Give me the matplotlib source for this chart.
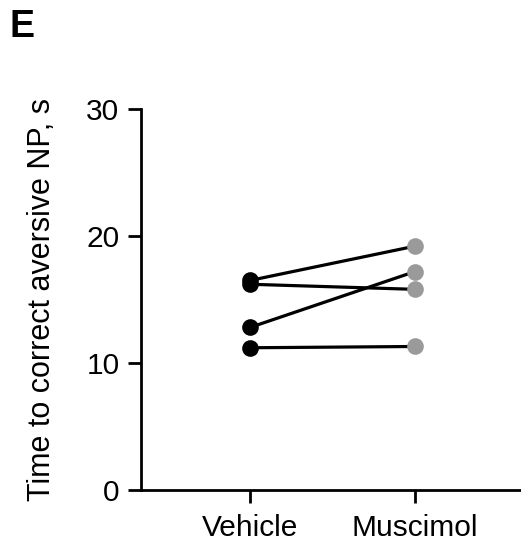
import matplotlib
matplotlib.use("Agg")
import matplotlib.pyplot as plt

plt.rcParams['font.family'] = ['Liberation Sans', 'DejaVu Sans']

conditions = ["Vehicle", "Muscimol"]
vehicle = [16.5, 16.2, 12.8, 11.2]
muscimol = [19.2, 15.8, 17.2, 11.3]
yticks = [0, 10, 20, 30]

fig = plt.figure(figsize=(5.21, 5.44), dpi=100)
ax = fig.add_axes([141/521, 1 - 490/544, 380/521, 381/544])

xs = list(range(len(conditions)))
for v, m in zip(vehicle, muscimol):
    ax.plot(xs, [v, m], color='black', lw=2.3, zorder=2, solid_capstyle='butt')
ax.scatter([xs[0]] * len(vehicle), vehicle, s=12**2, color='black', zorder=3, linewidths=0)
ax.scatter([xs[1]] * len(muscimol), muscimol, s=12**2, color='#9a9a9a', zorder=3, linewidths=0)

ax.set_xlim(-109/165, 1 + 106/165)
ax.set_ylim(0, 30)
ax.set_yticks(yticks)
ax.set_xticks(xs)
ax.set_xticklabels(conditions)
for s in ['top', 'right']:
    ax.spines[s].set_visible(False)
for s in ['left', 'bottom']:
    ax.spines[s].set_linewidth(2)
ax.tick_params(axis='both', width=2, length=9.5, labelsize=21.5)
ax.tick_params(axis='y', pad=6)
ax.tick_params(axis='x', pad=8)
ax.set_ylabel("Time to correct aversive NP, s", fontsize=22)
ax.yaxis.set_label_coords(-0.22, 0.5)

fig.text(10/521, 1 - 37/544, "E", fontsize=27, fontweight='bold', ha='left', va='baseline')

fig.savefig("out.png", dpi=100)
